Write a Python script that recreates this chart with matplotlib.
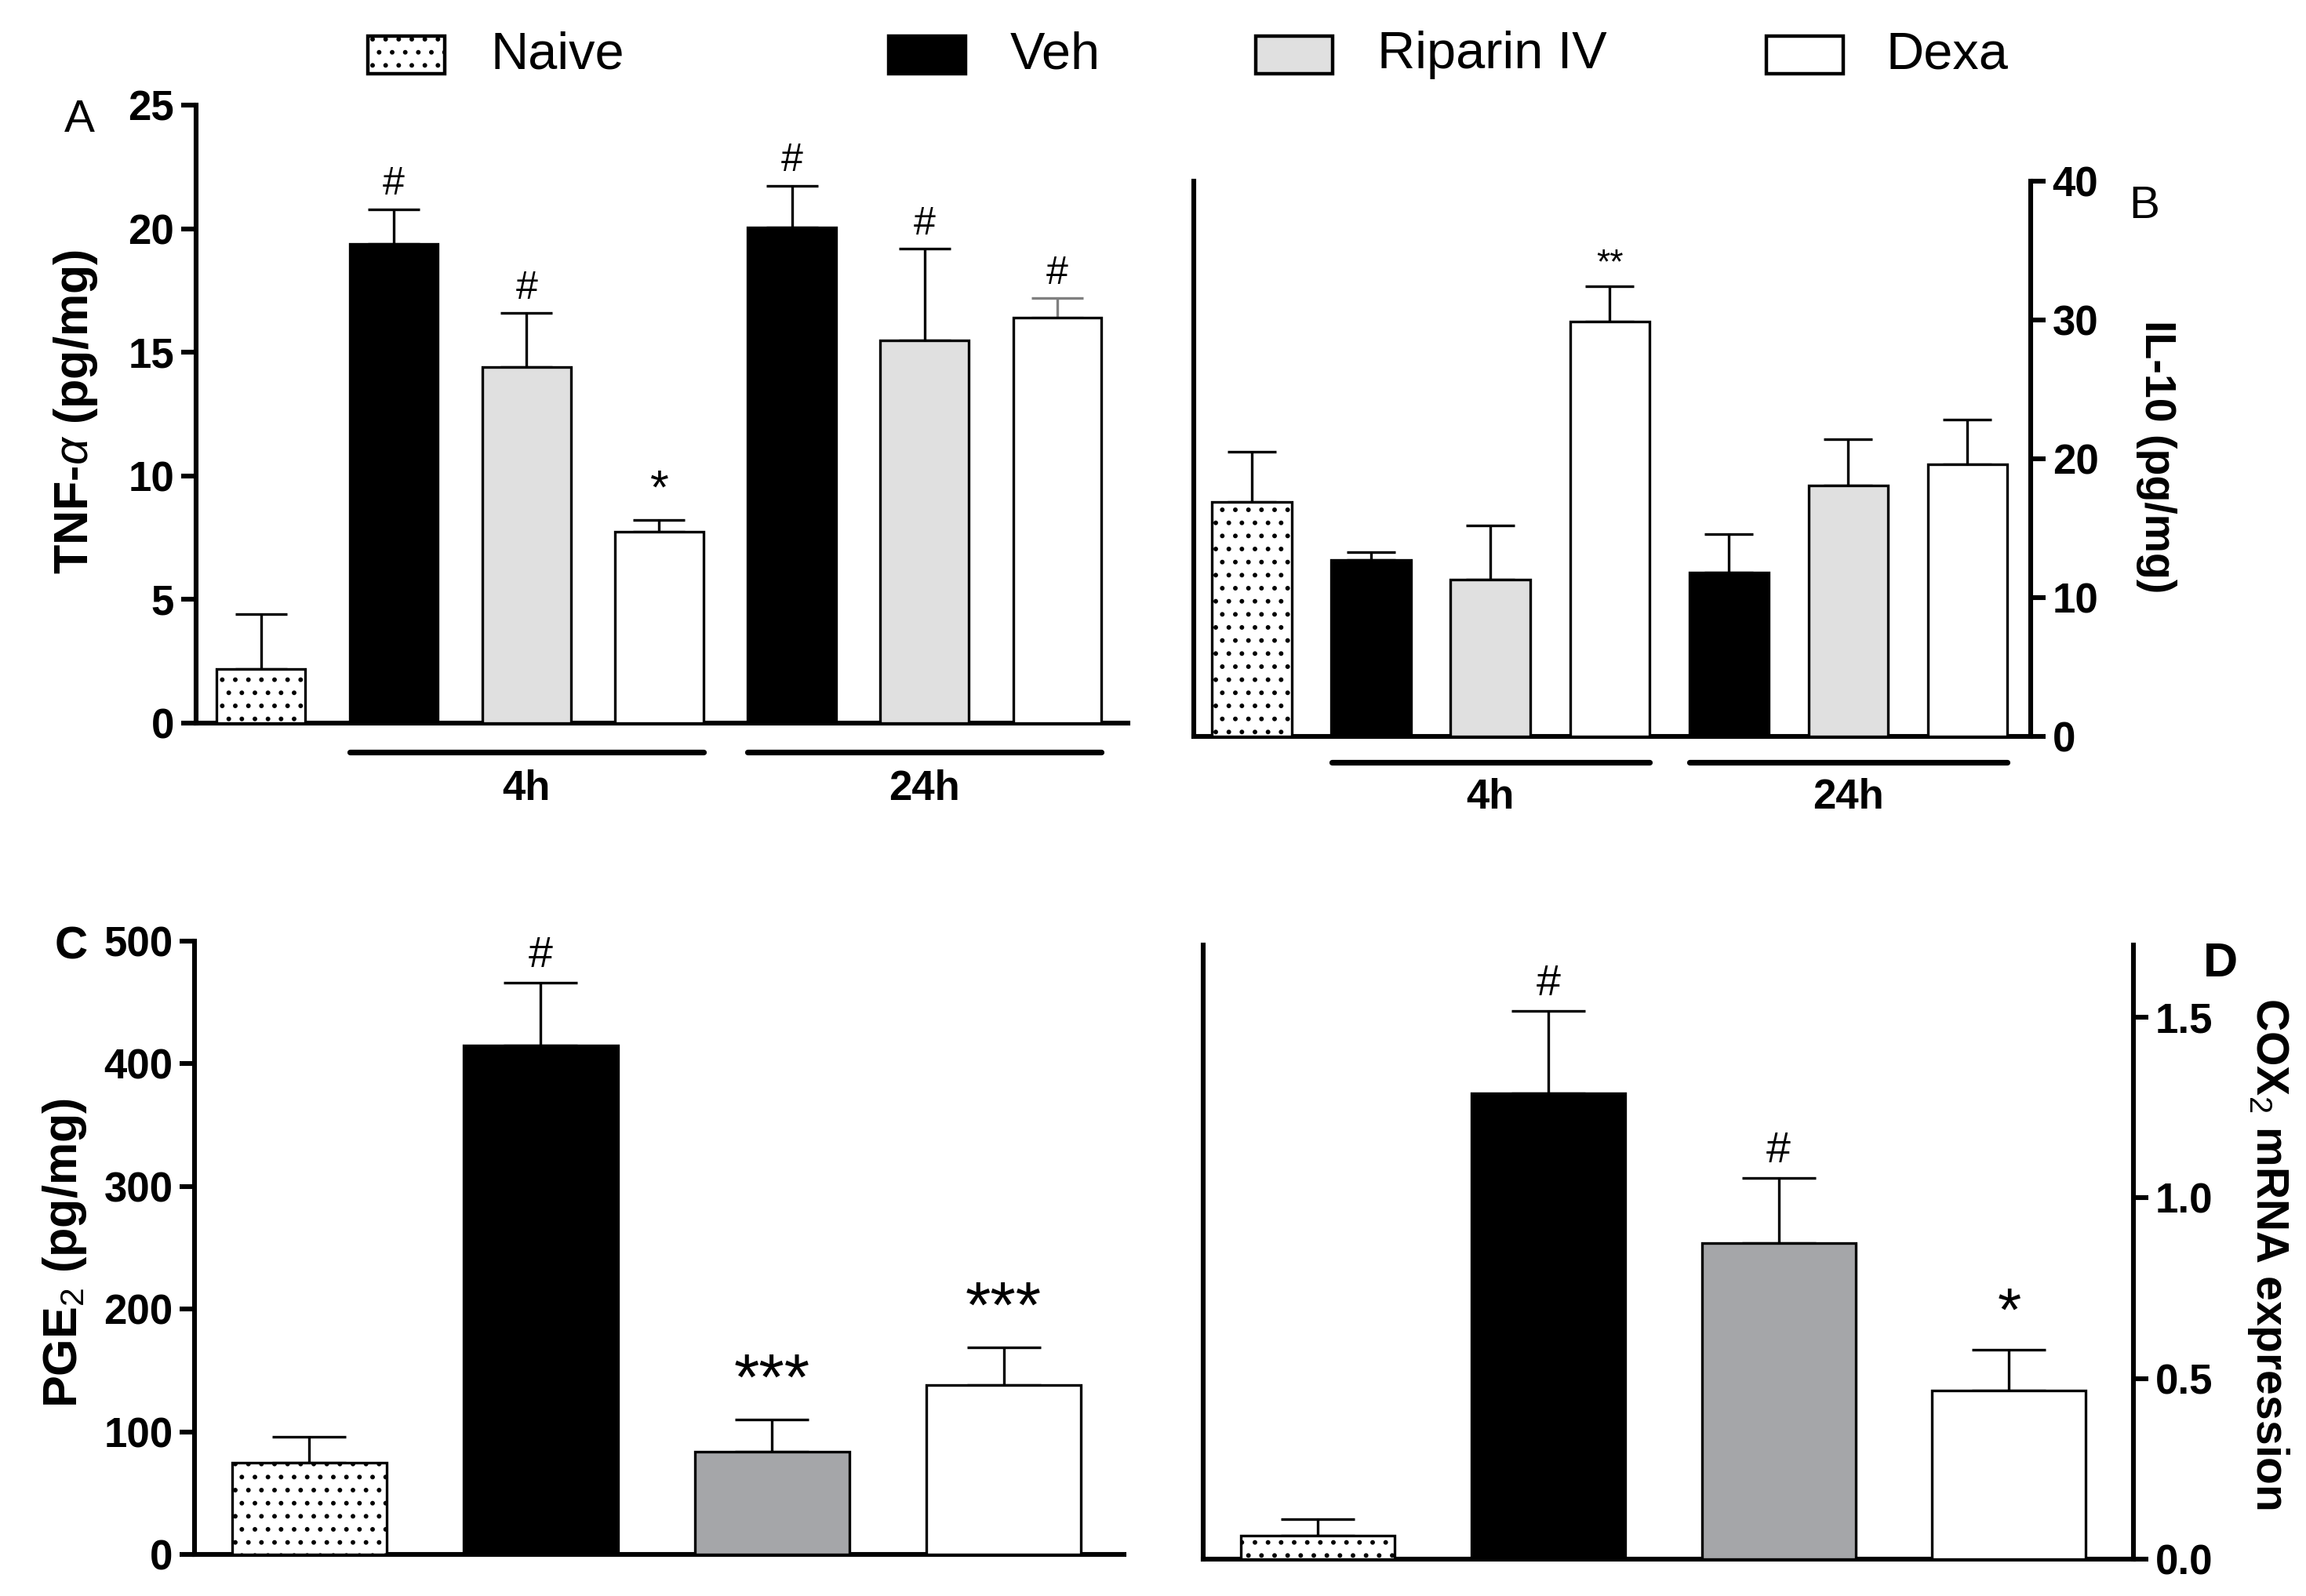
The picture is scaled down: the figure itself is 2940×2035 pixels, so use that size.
import numpy as np
import matplotlib
matplotlib.use('Agg')
import matplotlib.pyplot as plt
from matplotlib.patches import Rectangle

# panel A / B: Naive, then Veh / Riparin IV / Dexa at 4h and 24h
tnf = [2.2, 19.4, 14.4, 7.75, 20.05, 15.5, 16.4]
tnf_err = [2.2, 1.4, 2.2, 0.47, 1.7, 3.7, 0.8]
tnf_marks = ['', '#', '#', '*', '#', '#', '#']

il10 = [16.9, 12.7, 11.3, 29.9, 11.8, 18.1, 19.6]
il10_err = [3.6, 0.6, 3.9, 2.5, 2.8, 3.3, 3.2]
il10_marks = ['', '', '', '**', '', '', '']

times = ['4h', '24h']

# panel C / D: Naive, Veh, Riparin IV, Dexa
pge2 = [75, 415, 84, 138]
pge2_err = [21, 51, 26, 31]
pge2_marks = ['', '#', '***', '***']

cox2 = [0.065, 1.29, 0.875, 0.466]
cox2_err = [0.045, 0.226, 0.18, 0.114]
cox2_marks = ['', '#', '#', '*']

legend_labels = ['Naive', 'Veh', 'Riparin IV', 'Dexa']

NARROW = ['Liberation Sans Narrow', 'Liberation Sans', 'DejaVu Sans']
WIDE = ['Liberation Sans', 'DejaVu Sans']
plt.rcParams['font.family'] = NARROW
plt.rcParams['mathtext.fontset'] = 'custom'
plt.rcParams['mathtext.rm'] = 'Liberation Sans'
plt.rcParams['mathtext.it'] = 'Liberation Sans:italic'
plt.rcParams['mathtext.bf'] = 'Liberation Sans:bold'
plt.rcParams['hatch.linewidth'] = 0.9

LIGHT = '#e0e0e0'
DARK = '#a5a6a9'
fills_ab = ['white', 'black', LIGHT, 'white', 'black', LIGHT, 'white']
hatch_ab = ['..', '', '', '', '', '', '']
fills_cd = ['white', 'black', DARK, 'white']
hatch_cd = ['..', '', '', '']

fig = plt.figure(figsize=(14.7, 10.175), dpi=200)


def draw_bars(ax, vals, errs, marks, fills, hatches, capsize, markfs, ecolors=None):
    x = np.arange(len(vals))
    bars = ax.bar(x, vals, width=0.667, color=fills, edgecolor='black',
                  linewidth=1.2, zorder=3)
    for b, h in zip(bars, hatches):
        b.set_hatch(h)
    if ecolors is None:
        ecolors = ['black'] * len(vals)
    for i in range(len(vals)):
        ax.errorbar(x[i], vals[i], yerr=[[0], [errs[i]]], fmt='none',
                    ecolor=ecolors[i], elinewidth=1.2, capsize=capsize,
                    capthick=1.2, zorder=2)
        if marks[i]:
            fs = markfs
            if marks[i].startswith('*'):
                fs = markfs + 4
            ax.annotate(marks[i], (x[i], vals[i] + errs[i]), xytext=(0, 3),
                        textcoords='offset points', ha='center', va='bottom',
                        fontsize=fs)
    ax.set_xticks([])
    ax.tick_params(axis='y', direction='out', length=7, width=2.2,
                   labelsize=19, pad=3)
    for lab in ax.get_yticklabels():
        lab.set_fontweight('bold')
    for s in ax.spines.values():
        s.set_linewidth(2.2)


def time_bars(ax):
    for (a, b), lab in zip([(0.667, 3.333), (3.667, 6.333)], times):
        ax.plot([a, b], [-0.047, -0.047], color='black', lw=2.6,
                solid_capstyle='round', transform=ax.get_xaxis_transform(),
                clip_on=False)
        ax.text((a + b) / 2, -0.075, lab, transform=ax.get_xaxis_transform(),
                ha='center', va='top', fontsize=19, fontweight='bold')


# A
axA = fig.add_axes([0.085, 0.547, 0.404, 0.387])
draw_bars(axA, tnf, tnf_err, tnf_marks, fills_ab, hatch_ab, 12, 18,
          ecolors=['black'] * 6 + ['#808080'])
axA.set_xlim(-0.49, 6.53)
axA.set_ylim(0, 25)
axA.set_yticks([0, 5, 10, 15, 20, 25])
axA.spines['top'].set_visible(False)
axA.spines['right'].set_visible(False)
time_bars(axA)

# B
axB = fig.add_axes([0.5177, 0.5386, 0.3629, 0.3479])
draw_bars(axB, il10, il10_err, il10_marks, fills_ab, hatch_ab, 11, 12)
axB.set_xlim(-0.487, 6.53)
axB.set_ylim(0, 40)
axB.set_yticks([0, 10, 20, 30, 40])
axB.yaxis.tick_right()
for lab in axB.get_yticklabels():
    lab.set_fontweight('bold')
axB.spines['top'].set_visible(False)
time_bars(axB)

# C
axC = fig.add_axes([0.0844, 0.026, 0.403, 0.3843])
draw_bars(axC, pge2, pge2_err, pge2_marks, fills_cd, hatch_cd, 17, 20)
axC.set_xlim(-0.495, 3.52)
axC.set_ylim(0, 500)
axC.set_yticks([0, 100, 200, 300, 400, 500])
axC.spines['top'].set_visible(False)
axC.spines['right'].set_visible(False)
for t in axC.texts:
    if t.get_text() == '***':
        t.set_fontsize(30)

# D
axD = fig.add_axes([0.5218, 0.0231, 0.4034, 0.3849])
draw_bars(axD, cox2, cox2_err, cox2_marks, fills_cd, hatch_cd, 17, 20)
axD.set_xlim(-0.497, 3.54)
axD.set_ylim(0, 1.7)
axD.set_yticks([0.0, 0.5, 1.0, 1.5])
axD.set_yticklabels(['0.0', '0.5', '1.0', '1.5'])
axD.yaxis.tick_right()
for lab in axD.get_yticklabels():
    lab.set_fontweight('bold')
axD.spines['top'].set_visible(False)
for t in axD.texts:
    if t.get_text() == '*':
        t.set_fontsize(28)

# axis titles and panel letters
fig.text(0.0327, 0.742, r'TNF-$\alpha$ (pg/mg)', rotation=90, ha='center',
         va='center', fontsize=22, fontweight='bold', family=WIDE)
fig.text(0.935, 0.714, 'IL-10 (pg/mg)', rotation=270, ha='center',
         va='center', fontsize=20, fontweight='bold', family=WIDE)
fig.text(0.0279, 0.2152, r'PGE$_2$ (pg/mg)', rotation=90, ha='center',
         va='center', fontsize=22, fontweight='bold', family=WIDE)
fig.text(0.9837, 0.2147, r'COX$_2$ mRNA expression', rotation=270,
         ha='center', va='center', fontsize=20.5, fontweight='bold', family=WIDE)
fig.text(0.0344, 0.9248, 'A', ha='center', va='center', fontsize=21)
fig.text(0.930, 0.871, 'B', ha='center', va='center', fontsize=21)
fig.text(0.031, 0.4064, 'C', ha='center', va='center', fontsize=21,
         fontweight='bold', family=WIDE)
fig.text(0.963, 0.396, 'D', ha='center', va='center', fontsize=22,
         fontweight='bold', family=WIDE)

# legend row
patch_x = [0.1595, 0.3854, 0.5446, 0.766]
text_x = [0.2126, 0.4381, 0.5973, 0.818]
leg_fill = ['white', 'black', LIGHT, 'white']
leg_hatch = ['..', '', '', '']
for px, tx, lab, fc, hh in zip(patch_x, text_x, legend_labels, leg_fill, leg_hatch):
    r = Rectangle((px, 0.9538), 0.0333, 0.0236, transform=fig.transFigure,
                  facecolor=fc, edgecolor='black', linewidth=1.6, hatch=hh)
    fig.add_artist(r)
    fig.text(tx, 0.9656, lab, ha='left', va='center', fontsize=24)

fig.savefig('out.png', dpi=200)
